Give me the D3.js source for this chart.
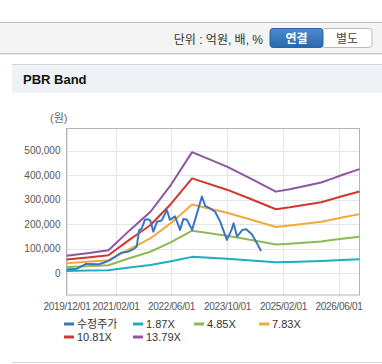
<!DOCTYPE html>
<html>
<head>
<meta charset="utf-8">
<script src="https://cdn.jsdelivr.net/npm/d3@7"></script>
<style>
  body { margin: 0; background: #fff; }
  svg { display: block; font-family: "Liberation Sans", Arial, "Noto Sans CJK KR", sans-serif; }
</style>
</head>
<body>
<div id="chart"></div>
<script>
// band breakpoints (shared dates)
var bandDates = ["2019/12/01", "2020/06/01", "2020/12/01", "2021/06/01", "2021/09/01", "2021/12/01",
  "2022/06/01", "2022/12/01", "2023/10/01", "2024/05/01", "2024/12/01", "2025/04/01",
  "2026/01/01", "2026/04/01", "2026/07/01", "2026/12/01"];
var band187 = [9700, 11100, 12700, 23600, 28700, 33900, 49100, 67000, 59000, 52200, 45200, 46500, 50200, 52200, 54400, 57600];
var band485 = [25300, 28800, 33000, 61200, 74600, 87900, 127300, 173700, 153000, 135400, 117100, 120600, 130100, 135400, 141000, 149500];
var band783 = [40800, 46600, 53300, 98800, 120400, 142000, 205500, 280500, 247000, 218600, 189100, 194800, 210100, 218600, 227700, 241300];
var band1081 = [56300, 64300, 73600, 136400, 166200, 196000, 283800, 387200, 341000, 301800, 261000, 268900, 290000, 301800, 314300, 333200];
var band1379 = [71800, 82000, 93900, 174000, 212000, 250000, 362000, 494000, 435000, 385000, 333000, 343000, 370000, 385000, 401000, 425000];

// adjusted price
var priceDates = ["2019/12/01", "2020/03/01", "2020/05/20", "2020/09/07", "2020/10/20", "2020/12/15",
  "2021/03/25", "2021/05/22", "2021/07/12", "2021/08/05", "2021/08/25", "2021/09/18", "2021/10/15",
  "2021/11/15", "2021/12/01", "2021/12/28", "2022/01/28", "2022/03/10", "2022/04/25", "2022/05/22",
  "2022/07/05", "2022/08/18", "2022/09/16", "2022/10/18", "2022/12/01", "2023/02/25", "2023/03/25",
  "2023/05/07", "2023/06/20", "2023/08/03", "2023/10/01", "2023/11/10", "2023/11/28", "2023/12/28",
  "2024/02/13", "2024/03/18", "2024/05/07", "2024/06/20", "2024/07/25"];
var price = [16000, 19000, 38000, 37000, 43000, 54000, 84000, 88000, 100000, 109000, 175000, 184000, 218000,
  220000, 215000, 170000, 210000, 215000, 258000, 218000, 232000, 177000, 222000, 218000, 177000, 313000,
  275000, 265000, 251000, 211000, 136000, 177000, 204000, 150000, 177000, 180000, 158000, 122000, 91000];

var seriesNames = ["수정주가", "1.87X", "4.85X", "7.83X", "10.81X", "13.79X"];
var colors = ["#3a76c0", "#1eaec4", "#8fb953", "#f2a93b", "#d0372e", "#8e55a2"];
var xTicks = ["2019/12/01", "2021/02/01", "2022/06/01", "2023/10/01", "2025/02/01", "2026/06/01"];
var yTicks = [0, 100000, 200000, 300000, 400000, 500000];

var parse = d3.timeParse("%Y/%m/%d");
var W = 382, H = 364;

var svg = d3.select("#chart").append("svg")
    .attr("width", W)
    .attr("height", H);

// toolbar
svg.append("rect").attr("x", 0).attr("y", 23).attr("width", W).attr("height", 30).attr("fill", "#f4f4f4");
svg.append("line").attr("x1", 0).attr("x2", W).attr("y1", 22.5).attr("y2", 22.5).attr("stroke", "#bdbdbd");
svg.append("line").attr("x1", 0).attr("x2", W).attr("y1", 53.5).attr("y2", 53.5).attr("stroke", "#c8c8c8");
svg.append("line").attr("x1", 0).attr("x2", W).attr("y1", 54.5).attr("y2", 54.5).attr("stroke", "#ececec");
svg.append("text").attr("x", 263).attr("y", 43.5).attr("text-anchor", "end")
    .attr("font-size", 12).attr("fill", "#333").text("단위 : 억원, 배, %");

var grad = svg.append("defs").append("linearGradient").attr("id", "btn").attr("x1", 0).attr("x2", 0).attr("y1", 0).attr("y2", 1);
grad.append("stop").attr("offset", "0%").attr("stop-color", "#4a8ace");
grad.append("stop").attr("offset", "100%").attr("stop-color", "#2a68ad");
svg.append("rect").attr("x", 322).attr("y", 28.5).attr("width", 50).attr("height", 19).attr("rx", 3)
    .attr("fill", "#fff").attr("stroke", "#bbb");
svg.append("rect").attr("x", 270).attr("y", 28.5).attr("width", 53).attr("height", 19).attr("rx", 3)
    .attr("fill", "url(#btn)").attr("stroke", "#2a64a6");
svg.append("text").attr("x", 296.5).attr("y", 42.5).attr("text-anchor", "middle")
    .attr("font-size", 12).attr("font-weight", "bold").attr("fill", "#fff").text("연결");
svg.append("text").attr("x", 347).attr("y", 42.5).attr("text-anchor", "middle")
    .attr("font-size", 12).attr("fill", "#444").text("별도");

// panel header
svg.append("rect").attr("x", 12).attr("y", 64).attr("width", W - 12).attr("height", 29).attr("fill", "#eef2f7");
svg.append("line").attr("x1", 12).attr("x2", W).attr("y1", 64.5).attr("y2", 64.5).attr("stroke", "#d6d6d6");
svg.append("text").attr("x", 23).attr("y", 84).attr("font-size", 13).attr("font-weight", "bold")
    .attr("fill", "#111").text("PBR Band");
svg.append("line").attr("x1", 12).attr("x2", W).attr("y1", 362.5).attr("y2", 362.5).attr("stroke", "#d6d6d6");

// plot
var x = d3.scaleTime().domain([parse("2019/12/01"), parse("2026/12/01")]).range([66.5, 359.5]);
var y = d3.scaleLinear().domain([-88500, 592500]).range([295, 128]);

svg.append("text").attr("x", 50).attr("y", 122).attr("font-size", 11).attr("fill", "#666").text("(원)");

var grid = svg.append("g");
grid.selectAll(".gy").data(yTicks).enter().append("line")
    .attr("x1", 66.5).attr("x2", 359.5)
    .attr("y1", function (d) { return Math.round(y(d)) + 0.5; })
    .attr("y2", function (d) { return Math.round(y(d)) + 0.5; })
    .attr("stroke", "#e6e6e6");
grid.selectAll(".gx").data(xTicks).enter().append("line")
    .attr("x1", function (d) { return Math.round(x(parse(d))) + 0.5; })
    .attr("x2", function (d) { return Math.round(x(parse(d))) + 0.5; })
    .attr("y1", 128).attr("y2", 295)
    .attr("stroke", "#e6e6e6");

svg.append("rect").attr("x", 66.5).attr("y", 128.5).attr("width", 293).attr("height", 166.5)
    .attr("fill", "none").attr("stroke", "#b4b4b4");

var yAxis = svg.append("g").attr("transform", "translate(66.5,0)")
    .call(d3.axisLeft(y).tickValues(yTicks).tickSize(0).tickPadding(6).tickFormat(d3.format(",")));
var xAxis = svg.append("g").attr("transform", "translate(0,295)")
    .call(d3.axisBottom(x).tickValues(xTicks.map(parse)).tickSize(0).tickPadding(8).tickFormat(d3.timeFormat("%Y/%m/%d")));
[yAxis, xAxis].forEach(function (a) {
    a.select(".domain").remove();
    a.selectAll("text").attr("font-size", 10).attr("fill", "#555")
        .attr("font-family", "Liberation Sans, Arial, sans-serif");
});
xAxis.selectAll("text").attr("letter-spacing", "-0.3px");

var line = d3.line()
    .x(function (d) { return x(d[0]); })
    .y(function (d) { return y(d[1]); });

var bands = [band187, band485, band783, band1081, band1379];
var lines = [d3.zip(priceDates.map(parse), price)].concat(bands.map(function (b) {
    return d3.zip(bandDates.map(parse), b);
}));

// draw bands first, price on top
var order = [1, 2, 3, 4, 5, 0];
order.forEach(function (i) {
    svg.append("path").datum(lines[i])
        .attr("d", line)
        .attr("fill", "none")
        .attr("stroke", colors[i])
        .attr("stroke-width", 2)
        .attr("stroke-linejoin", "round");
});

// legend
var legendPos = [[64, 324], [133, 324], [194, 324], [259, 324], [64, 337], [133, 337]];
var legend = svg.append("g").selectAll(".lg").data(seriesNames).enter().append("g")
    .attr("transform", function (d, i) { return "translate(" + legendPos[i][0] + "," + legendPos[i][1] + ")"; });
legend.append("line").attr("x1", 0).attr("x2", 10).attr("y1", 0).attr("y2", 0)
    .attr("stroke", function (d, i) { return colors[i]; }).attr("stroke-width", 3);
legend.append("text").attr("x", 13).attr("y", 4).attr("font-size", 11).attr("fill", "#333")
    .text(function (d) { return d; });
</script>
</body>
</html>
